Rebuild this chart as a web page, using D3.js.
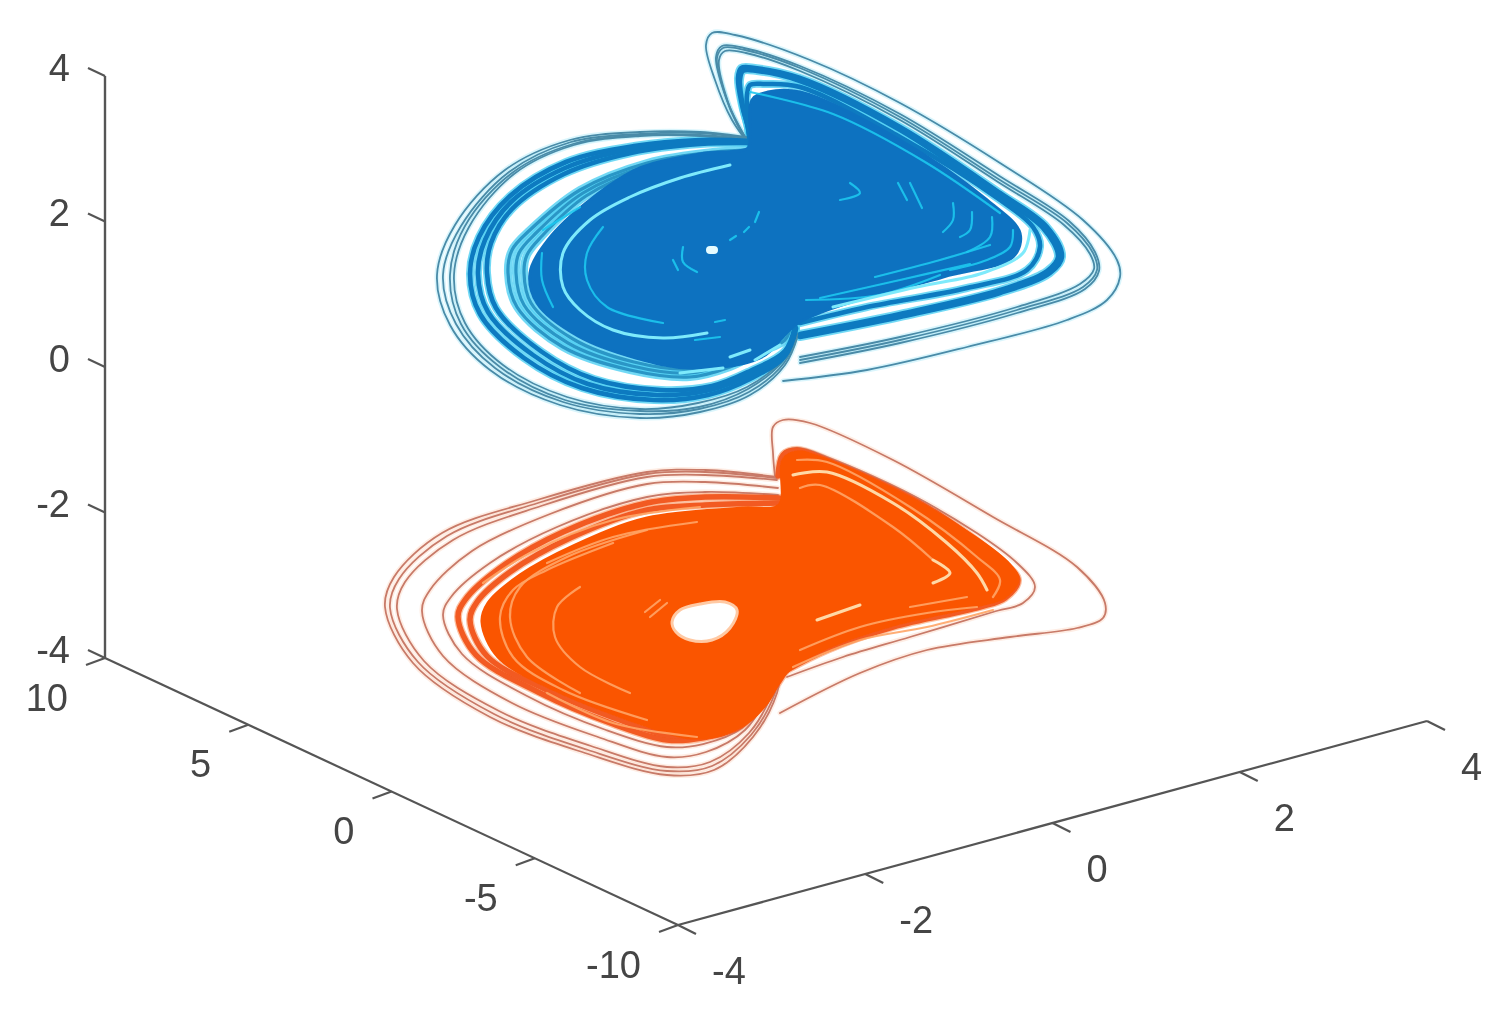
<!DOCTYPE html>
<html>
<head>
<meta charset="utf-8">
<script src="https://cdnjs.cloudflare.com/ajax/libs/d3/7.8.5/d3.min.js"></script>
<style>
  html, body { margin: 0; padding: 0; background: #fff; }
  svg { display: block; }
  text { font-family: "Liberation Sans", Arial, sans-serif; font-size: 38px; fill: #454545; }
</style>
</head>
<body>
<script>
//Tick labels of the three axes
var xTicks = [-4, -2, 0, 2, 4];
var yTicks = [10, 5, 0, -5, -10];
var zTicks = [4, 2, 0, -2, -4];

//Both attractors, read off the picture as projected [u, v] view coordinates
//Blue, left lobe
var blueLeftThin = [
  [[.52,2.62],[0,2.68],[-.60,2.68],[-1.30,2.60],[-1.95,2.30],[-2.45,1.75],[-2.63,1.25],[-2.50,.75],[-2.10,.30],[-1.40,-.05],[-.60,-.18],[0,-.12],[.50,.05],[.85,.35],[.98,.65]],
  [[.52,2.61],[0,2.67],[-.60,2.66],[-1.29,2.58],[-1.91,2.28],[-2.39,1.74],[-2.57,1.25],[-2.44,.76],[-2.05,.32],[-1.37,-.02],[-.60,-.14],[-.01,-.09],[.49,.08],[.84,.37],[.97,.66]],
  [[.52,2.60],[0,2.65],[-.60,2.65],[-1.27,2.56],[-1.88,2.27],[-2.35,1.74],[-2.50,1.25],[-2.39,.76],[-2.00,.33],[-1.35,0],[-.60,-.11],[-.01,-.07],[.48,.11],[.83,.39],[.97,.67]],
  [[.52,2.59],[0,2.64],[-.60,2.64],[-1.26,2.55],[-1.86,2.26],[-2.31,1.73],[-2.46,1.25],[-2.35,.77],[-1.97,.35],[-1.33,.03],[-.60,-.09],[-.02,-.03],[.47,.13],[.82,.40],[.96,.68]]
];
var blueLeftBand = [
  [[.52,2.59],[0,2.60],[-.66,2.54],[-1.34,2.38],[-1.90,2.04],[-2.21,1.63],[-2.30,1.26],[-2.20,.86],[-1.76,.42],[-1.18,.12],[-.46,0],[.08,.05],[.50,.21],[.85,.44],[.96,.71]],
  [[.52,2.58],[0,2.58],[-.68,2.51],[-1.35,2.32],[-1.89,1.98],[-2.15,1.60],[-2.22,1.26],[-2.12,.88],[-1.67,.45],[-1.12,.16],[-.43,.05],[.10,.10],[.50,.25],[.85,.46],[.96,.72]],
  [[.52,2.57],[0,2.56],[-.69,2.47],[-1.36,2.26],[-1.88,1.91],[-2.09,1.57],[-2.13,1.27],[-2.04,.92],[-1.58,.48],[-1.06,.21],[-.39,.10],[.12,.14],[.50,.29],[.85,.49],[.95,.74]]
];
var blueLeftMid = [
  [[.52,2.50],[.13,2.48],[-.53,2.37],[-1.20,2.10],[-1.70,1.70],[-1.88,1.50],[-1.92,1.27],[-1.83,.93],[-1.37,.53],[-.70,.30],[-.10,.23],[.30,.33],[.60,.48],[.85,.60],[.92,.80]],
  [[.52,2.48],[.13,2.45],[-.53,2.34],[-1.17,2.07],[-1.64,1.67],[-1.81,1.47],[-1.84,1.27],[-1.76,.95],[-1.32,.57],[-.68,.34],[-.10,.27],[.28,.37],[.58,.51],[.83,.63],[.92,.82]],
  [[.52,2.46],[.13,2.42],[-.53,2.31],[-1.14,2.04],[-1.58,1.64],[-1.73,1.45],[-1.76,1.27],[-1.69,.97],[-1.27,.61],[-.66,.38],[-.10,.31],[.26,.41],[.56,.54],[.81,.66],[.92,.84]]
];
//Blue, right lobe
var blueRightThin = [
  [[.83,.19],[1.67,.30],[2.67,.53],[3.67,.80],[4.07,1.00],[4.20,1.23],[4.17,1.40],[3.83,1.80],[3.00,2.37],[2.00,2.97],[1.10,3.40],[.35,3.65],[.12,3.67],[.06,3.55],[.15,3.20],[.32,2.80],[.50,2.55]],
  [[1.00,.37],[2.00,.57],[3.17,.87],[3.85,1.11],[3.99,1.29],[3.95,1.48],[3.69,1.79],[3.01,2.23],[2.00,2.86],[1.00,3.34],[.44,3.52],[.22,3.54],[.16,3.43],[.26,3.02],[.37,2.76],[.50,2.55]],
  [[1.00,.40],[2.00,.60],[3.17,.90],[3.83,1.13],[3.97,1.30],[3.93,1.47],[3.67,1.77],[3.00,2.20],[2.00,2.83],[1.00,3.32],[.45,3.50],[.23,3.52],[.17,3.42],[.27,3.00],[.38,2.75],[.50,2.55]],
  [[1.00,.43],[2.00,.63],[3.17,.93],[3.80,1.16],[3.94,1.31],[3.90,1.46],[3.64,1.75],[2.98,2.18],[2.00,2.80],[1.00,3.29],[.46,3.47],[.25,3.49],[.19,3.40],[.28,2.98],[.39,2.74],[.50,2.55]]
];
var blueRightBand = [
  [[1.00,.63],[2.00,.83],[3.00,1.07],[3.50,1.27],[3.62,1.43],[3.47,1.73],[3.00,2.07],[2.00,2.73],[1.00,3.22],[.55,3.32],[.41,3.32],[.38,3.22],[.42,2.95],[.48,2.72],[.50,2.55]],
  [[1.00,.66],[2.00,.86],[3.00,1.10],[3.47,1.29],[3.58,1.43],[3.43,1.72],[2.98,2.04],[2.00,2.70],[1.00,3.19],[.57,3.29],[.43,3.29],[.40,3.20],[.43,2.93],[.48,2.72],[.50,2.55]],
  [[1.00,.77],[1.67,.93],[2.67,1.12],[3.27,1.30],[3.40,1.53],[3.33,1.73],[3.00,2.00],[2.00,2.63],[1.00,3.13],[.65,3.16],[.50,3.15],[.47,3.05],[.47,2.90],[.49,2.72],[.50,2.55]]
];
var blueCore = [[.50,2.60],[.52,3.00],[.68,3.08],[1.00,3.08],[2.00,2.60],[2.87,2.00],[3.20,1.67],[3.13,1.43],[2.43,1.23],[1.00,.78],[.60,.42],[-.10,.32],[-.64,.42],[-1.22,.64],[-1.63,.97],[-1.70,1.27],[-1.52,1.60],[-1.10,2.00],[-.60,2.32],[0,2.46],[.48,2.52]];
var blueGlints = [
  [[-.97,1.73],[-1.13,1.47],[-1.13,1.20],[-.93,.93],[-.37,.77]],
  [[-1.58,1.47],[-1.58,1.20],[-1.47,.93]],
  [[-1.57,1.70],[-1.20,1.93]],
  [[-.17,1.53],[-.17,1.38],[-.03,1.28]],
  [[-.27,1.40],[-.22,1.30]],
  [[.30,1.60],[.36,1.64]],
  [[.44,1.68],[.49,1.73]],
  [[.55,1.78],[.59,1.88]],
  [[1.50,2.17],[1.60,2.07],[1.40,2.00]],
  [[1.98,2.17],[2.07,2.00]],
  [[2.10,2.17],[2.22,1.92]],
  [[2.53,1.97],[2.53,1.80],[2.43,1.68]],
  [[2.72,1.88],[2.70,1.70],[2.60,1.63]],
  [[2.92,1.83],[2.90,1.63],[2.67,1.48]],
  [[3.13,1.70],[3.10,1.53],[2.87,1.40],[2.50,1.30]],
  [[1.06,1.00],[1.79,1.05],[2.40,1.25]],
  [[1.75,1.23],[2.40,1.40],[2.90,1.55]],
  [[1.20,1.02],[2.00,1.20],[2.70,1.36]],
  [[-.05,.60],[.20,.63]],
  [[.15,.78],[.25,.80]],
  [[.50,3.08],[1.33,2.86],[2.25,2.38],[3.00,1.87]]
];
var blueBright = [
  [[.30,2.35],[-.20,2.22],[-.70,2.03],[-1.10,1.80],[-1.37,1.47],[-1.37,1.13],[-1.20,.90],[-.87,.70],[-.37,.62],[.07,.67]],
  [[3.30,1.70],[3.23,1.47],[2.83,1.27],[2.17,1.13],[1.33,.93]],
  [[.30,.43],[.50,.50]],
  [[.55,.40],[.80,.55]],
  [[-.20,.27],[.23,.32]]
];
var blueDot = [[.10,1.50],[.14,1.50]];

//Orange, left lobe
var orangeLeftThin = [
  [[.77,-.77],[.05,-.70],[-.53,-.72],[-1.63,-1.00],[-2.58,-1.33],[-3.06,-1.77],[-3.15,-2.07],[-2.87,-2.63],[-2.10,-3.17],[-1.15,-3.53],[-.33,-3.75],[.14,-3.70],[.53,-3.37],[.77,-2.93],[.81,-2.63]],
  [[.77,-.78],[.05,-.72],[-.53,-.74],[-1.62,-1.03],[-2.53,-1.36],[-3.01,-1.79],[-3.10,-2.08],[-2.82,-2.62],[-2.06,-3.14],[-1.12,-3.50],[-.33,-3.71],[.12,-3.66],[.51,-3.35],[.75,-2.93],[.81,-2.63]],
  [[.77,-.80],[.05,-.75],[-.53,-.77],[-1.59,-1.06],[-2.47,-1.40],[-2.95,-1.82],[-3.03,-2.09],[-2.76,-2.61],[-2.01,-3.11],[-1.09,-3.46],[-.33,-3.67],[.10,-3.62],[.49,-3.33],[.73,-2.92],[.81,-2.63]],
  [[.78,-.88],[.05,-.82],[-.53,-.84],[-1.50,-1.14],[-2.28,-1.51],[-2.70,-1.90],[-2.78,-2.11],[-2.57,-2.56],[-1.88,-3.03],[-1.02,-3.37],[-.33,-3.57],[.06,-3.52],[.45,-3.30],[.70,-2.92],[.82,-2.65]],
  [[.78,-.95],[.05,-.92],[-.53,-.97],[-1.43,-1.27],[-2.10,-1.63],[-2.49,-1.97],[-2.57,-2.15],[-2.38,-2.54],[-1.73,-2.96],[-.94,-3.30],[-.33,-3.47],[.03,-3.44],[.42,-3.28],[.67,-2.95],[.83,-2.68]]
];
var orangeLeftBand = [
  [[.79,-.98],[.05,-.97],[-.53,-1.03],[-1.37,-1.32],[-2.00,-1.68],[-2.35,-2.00],[-2.42,-2.17],[-2.24,-2.55],[-1.62,-2.92],[-.87,-3.24],[-.33,-3.40],[.02,-3.38],[.41,-3.26],[.67,-2.97],[.84,-2.70]],
  [[.79,-1.03],[.05,-1.05],[-.53,-1.10],[-1.30,-1.38],[-1.90,-1.72],[-2.23,-2.02],[-2.30,-2.20],[-2.13,-2.56],[-1.53,-2.90],[-.80,-3.20],[-.33,-3.35],[0,-3.34],[.40,-3.24],[.66,-2.99],[.85,-2.72]]
];
//Orange, right lobe
var orangeRightThin = [
  [[.80,-3.13],[1.60,-2.73],[2.27,-2.50],[3.10,-2.37],[3.77,-2.28],[4.03,-2.18],[4.05,-2.03],[3.77,-1.67],[2.93,-1.17],[1.93,-.60],[1.10,-.23],[.83,-.20],[.73,-.27],[.73,-.53],[.75,-.77]],
  [[.87,-2.77],[1.43,-2.57],[2.10,-2.37],[2.93,-2.12],[3.23,-2.03],[3.35,-1.87],[3.17,-1.63],[2.27,-1.03],[1.27,-.57],[.97,-.48],[.83,-.53],[.78,-.73]]
];
var orangeRightBand = [
  [[.87,-2.70],[1.27,-2.50],[1.93,-2.27],[2.80,-2.07],[3.05,-1.98],[3.18,-1.80],[3.00,-1.60],[2.27,-1.07],[1.27,-.60],[.97,-.50],[.83,-.55],[.78,-.76]]
];
var orangeCore = [[.79,-1.05],[.83,-.60],[.97,-.52],[1.27,-.60],[2.27,-1.07],[3.10,-1.65],[3.18,-1.80],[3.05,-1.97],[2.80,-2.05],[1.93,-2.25],[1.27,-2.48],[.86,-2.73],[.67,-3.03],[.48,-3.22],[.20,-3.35],[-.10,-3.38],[-.75,-3.18],[-1.45,-2.90],[-2.02,-2.57],[-2.18,-2.22],[-2.12,-2.03],[-1.80,-1.75],[-1.25,-1.45],[-.53,-1.18],[.43,-1.08]];
var orangeHole = [[-.28,-2.22],[-.20,-2.10],[0,-2.04],[.25,-2.02],[.37,-2.10],[.30,-2.28],[.12,-2.40],[-.10,-2.40],[-.24,-2.32]];
var orangeGlints = [
  [[.97,-.60],[1.27,-.62],[2.10,-1.07],[2.77,-1.57],[3.00,-1.80],[2.93,-1.97]],
  [[1.00,-.88],[1.20,-.85],[1.93,-1.27],[2.33,-1.60]],
  [[2.67,-1.97],[2.10,-2.07]],
  [[.93,-2.67],[1.60,-2.40],[2.27,-2.27],[2.93,-2.10]],
  [[1.00,-2.50],[1.60,-2.27],[2.27,-2.13],[2.77,-2.07]],
  [[-1.20,-1.87],[-1.43,-2.07],[-1.45,-2.37],[-1.20,-2.67],[-.70,-2.93]],
  [[-.87,-1.43],[-1.53,-1.70],[-1.87,-1.90],[-2.00,-2.17],[-1.87,-2.57],[-1.37,-2.90],[-.53,-3.20]],
  [[-.53,-1.30],[-1.33,-1.57],[-1.80,-1.87],[-1.90,-2.17],[-1.73,-2.57],[-1.20,-2.93]],
  [[0,-1.07],[-.87,-1.20],[-1.70,-1.53],[-2.17,-1.83]],
  [[-.03,-1.22],[-.87,-1.37],[-1.53,-1.63]],
  [[-.03,-3.37],[-.87,-3.23],[-1.53,-2.93]],
  [[-.50,-2.17],[-.33,-2.03]],
  [[-.55,-2.12],[-.40,-2.00]]
];
var orangeBright = [
  [[.93,-.75],[1.27,-.72],[1.93,-1.03],[2.47,-1.43],[2.77,-1.73],[2.87,-1.90]],
  [[2.33,-1.83],[2.50,-1.73],[2.33,-1.60]],
  [[1.17,-2.20],[1.60,-2.05]]
];

var width = 1506, height = 1019;

var svg = d3.select("body").append("svg")
  .attr("width", width)
  .attr("height", height);

//the picture is a little soft, so everything goes through a slight blur
var defs = svg.append("defs");
defs.append("filter").attr("id", "soft")
  .append("feGaussianBlur").attr("stdDeviation", 0.7);

//3D axes, each runs between two corners of the box
var zScale = d3.scaleLinear().domain([-4, 4]).range([658, 76]);
var yScaleX = d3.scaleLinear().domain([10, -10]).range([105, 678]);
var yScaleY = d3.scaleLinear().domain([10, -10]).range([658, 925]);
var xScaleX = d3.scaleLinear().domain([-4, 4]).range([678, 1427]);
var xScaleY = d3.scaleLinear().domain([-4, 4]).range([925, 721]);

//view plane for the curves
var uScale = d3.scaleLinear().domain([-7, 8.06]).range([0, 1506]);
var vScale = d3.scaleLinear().domain([4, -6.19]).range([0, 1019]);

var openLine = d3.line()
  .x(function (d) { return uScale(d[0]); })
  .y(function (d) { return vScale(d[1]); })
  .curve(d3.curveCatmullRom.alpha(0.5));

var closedLine = d3.line()
  .x(function (d) { return uScale(d[0]); })
  .y(function (d) { return vScale(d[1]); })
  .curve(d3.curveCatmullRomClosed.alpha(0.5));

var plot = svg.append("g").attr("filter", "url(#soft)");

function drawRings(rings, color, lineWidth, opacity) {
  plot.append("g")
    .selectAll("path")
    .data(rings)
    .enter()
    .append("path")
    .attr("d", openLine)
    .attr("fill", "none")
    .attr("stroke", color)
    .attr("stroke-width", lineWidth)
    .attr("stroke-opacity", opacity)
    .attr("stroke-linecap", "round");
}

function drawAttractor(s) {
  var thin = s.leftThin.concat(s.rightThin);
  var band = s.leftBand.concat(s.rightBand);
  //pale halo round the thin lines
  drawRings(thin, s.halo, 5, 0.4);
  drawRings(band.concat(s.mid), s.bandHalo, 8, 0.8);
  drawRings(thin, s.line, 1.8, 1);
  drawRings(s.mid, s.midLine, 3.2, 1);
  drawRings(band, s.band, s.bandWidth, 1);
  plot.append("path")
    .attr("d", closedLine(s.core))
    .attr("fill", s.fill)
    .attr("stroke", s.fill)
    .attr("stroke-width", 3);
  drawRings(s.glints, s.glint, 2.2, 0.9);
  drawRings(s.bright, s.brightLine, 3, 1);
}

drawAttractor({
  leftThin: blueLeftThin, leftBand: blueLeftBand, mid: blueLeftMid,
  rightThin: blueRightThin, rightBand: blueRightBand,
  core: blueCore, glints: blueGlints, bright: blueBright,
  line: "#4a8ba8", band: "#0a7ac0", midLine: "#2a96c6", halo: "#9fe6f7", bandHalo: "#4fd0f2",
  bandWidth: 4.6, fill: "#0b72c0", glint: "#1cc6ee", brightLine: "#7eeafb"
});

drawAttractor({
  leftThin: orangeLeftThin, leftBand: orangeLeftBand, mid: [],
  rightThin: orangeRightThin, rightBand: orangeRightBand,
  core: orangeCore, glints: orangeGlints, bright: orangeBright,
  line: "#c87a68", band: "#f25a20", midLine: "#f25a20", halo: "#fdd3bc", bandHalo: "#fbb08a",
  bandWidth: 5.5, fill: "#fa5504", glint: "#ffa566", brightLine: "#ffd9a6"
});

drawRings([blueDot], "#e4fbff", 8, 1);

plot.append("path")
  .attr("d", closedLine(orangeHole))
  .attr("fill", "#fff")
  .attr("stroke", "#ffc9a3")
  .attr("stroke-width", 3);

//axes
var axes = svg.append("g").attr("filter", "url(#soft)")
  .attr("stroke", "#555")
  .attr("fill", "none");

function axisLine(x1, y1, x2, y2, w) {
  axes.append("line")
    .attr("x1", x1).attr("y1", y1)
    .attr("x2", x2).attr("y2", y2)
    .attr("stroke-width", w);
}

axisLine(105, zScale(4), 105, zScale(-4), 2.4);
axisLine(yScaleX(10), yScaleY(10), yScaleX(-10), yScaleY(-10), 2.2);
axisLine(xScaleX(-4), xScaleY(-4), xScaleX(4), xScaleY(4), 2.2);

var labels = svg.append("g").attr("filter", "url(#soft)");

zTicks.forEach(function (t) {
  axisLine(105, zScale(t), 88, zScale(t) - 8, 2.2);
  labels.append("text")
    .attr("x", 70).attr("y", zScale(t) - 9)
    .attr("dy", "0.36em")
    .attr("text-anchor", "end")
    .text(t);
});

yTicks.forEach(function (t) {
  axisLine(yScaleX(t), yScaleY(t), yScaleX(t) - 19, yScaleY(t) + 7, 2.2);
  labels.append("text")
    .attr("x", yScaleX(t) - 37).attr("y", yScaleY(t) + 39)
    .attr("dy", "0.36em")
    .attr("text-anchor", "end")
    .text(t);
});

xTicks.forEach(function (t) {
  axisLine(xScaleX(t), xScaleY(t), xScaleX(t) + 18, xScaleY(t) + 9, 2.2);
  labels.append("text")
    .attr("x", xScaleX(t) + 34).attr("y", xScaleY(t) + 45)
    .attr("dy", "0.36em")
    .attr("text-anchor", "start")
    .text(t);
});
</script>
</body>
</html>
